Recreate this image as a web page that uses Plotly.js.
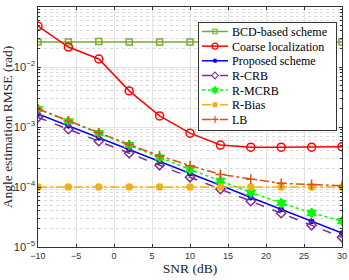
<!DOCTYPE html>
<html><head><meta charset="utf-8">
<script src="https://cdn.plot.ly/plotly-3.0.1.min.js"></script>
<style>html,body{margin:0;padding:0;background:#fff}#chart{width:349px;height:280px}</style>
</head><body><div id="chart"></div>
<script>
const snr = [-10, -6, -2, 2, 6, 10, 14, 18, 22, 26, 30];
const bcd = [0.026, 0.026, 0.0265, 0.026, 0.0262, 0.026, 0.026, 0.026, 0.026, 0.026, 0.026];
const coarse = [0.048, 0.0215, 0.0136, 0.0040, 0.00153, 0.00079, 0.0005, 0.00046, 0.00046, 0.00046, 0.00047];
const proposed = [1.65e-3, 1.05e-3, 6.6e-4, 4.2e-4, 2.65e-4, 1.68e-4, 1.07e-4, 6.7e-5, 4.25e-5, 2.68e-5, 1.7e-5];
const rcrb = [1.45e-3, 9.2e-4, 5.8e-4, 3.65e-4, 2.3e-4, 1.45e-4, 9.2e-5, 5.8e-5, 3.65e-5, 2.3e-5, 1.45e-5];
const rmcrb = [2.0e-3, 1.25e-3, 7.9e-4, 5.0e-4, 3.1e-4, 1.97e-4, 1.27e-4, 8.1e-5, 5.4e-5, 3.7e-5, 2.7e-5];
const rbias = [1e-4, 1e-4, 1e-4, 1e-4, 1e-4, 1e-4, 1e-4, 1e-4, 1e-4, 1e-4, 1e-4];
const lb = [2.0e-3, 1.26e-3, 8.0e-4, 5.1e-4, 3.3e-4, 2.27e-4, 1.62e-4, 1.35e-4, 1.15e-4, 1.1e-4, 1.05e-4];

function tr(name, y, color, dash, symbol, msize) {
  return {x: snr, y: y, name: name, type: 'scatter', mode: 'lines+markers',
    line: {color: color, dash: dash, width: 1.5},
    marker: {symbol: symbol, size: msize, color: color, line: {color: color, width: 1.5}}};
}
const data = [
  tr('BCD-based scheme', bcd, '#77AC30', 'solid', 'square-open', 6),
  tr('Coarse localization', coarse, '#FF0000', 'solid', 'circle-open', 8),
  tr('Proposed scheme', proposed, '#0000FF', 'solid', 'asterisk-open', 5),
  tr('R-CRB', rcrb, '#7E2F8E', 'dash', 'diamond-open', 7),
  tr('R-MCRB', rmcrb, '#00FF00', 'dot', 'hexagram', 7),
  tr('R-Bias', rbias, '#EDB120', 'dashdot', 'circle', 6),
  tr('LB', lb, '#D95319', 'dashdot', 'cross-thin-open', 7)
];
const serif = 'Liberation Serif, Times New Roman, serif';
const layout = {
  width: 349, height: 280,
  margin: {l: 38, r: 7, t: 7, b: 33},
  paper_bgcolor: '#fff', plot_bgcolor: '#fff',
  font: {family: 'Liberation Sans, Arial, sans-serif', size: 9, color: '#333'},
  showlegend: true,
  legend: {x: 0.53, y: 0.935, xanchor: 'left', yanchor: 'top',
    bgcolor: '#fff', bordercolor: '#333', borderwidth: 1,
    font: {family: serif, size: 12, color: '#000'},
    tracegroupgap: 0, itemwidth: 30},
  xaxis: {range: [-10, 30], tickvals: [-10, -5, 0, 5, 10, 15, 20, 25, 30],
    ticks: 'inside', ticklen: 3, tickcolor: '#333', showline: true, linecolor: '#333', linewidth: 1, mirror: 'ticks',
    showgrid: true, gridcolor: '#e3e3e3', zeroline: false,
    title: {text: 'SNR (dB)', font: {family: serif, size: 13.5, color: '#222'}, standoff: 3}},
  yaxis: {type: 'log', range: [-5, -1], dtick: 1, exponentformat: 'power',
    ticks: 'inside', ticklen: 3, tickcolor: '#333', showline: true, linecolor: '#333', linewidth: 1, mirror: 'ticks',
    showgrid: true, gridcolor: '#e3e3e3', zeroline: false,
    minor: {showgrid: true, gridcolor: '#d9d9d9', griddash: 'dot', ticks: 'inside', ticklen: 2, tickcolor: '#333'},
    title: {text: 'Angle estimation RMSE (rad)', font: {family: serif, size: 13.5, color: '#222'}, standoff: 1}}
};

function compactLegend() {
  const leg = document.querySelector('.legend');
  if (!leg) return;
  const W = 138, H = 108, X = 198, Y = 22, step = 14.65, first = 9.5;
  leg.setAttribute('transform', 'translate(' + X + ',' + Y + ')');
  const bg = leg.querySelector('rect.bg');
  if (bg) { bg.setAttribute('width', W); bg.setAttribute('height', H); }
  const items = Array.from(leg.querySelectorAll('g.traces'));
  items.forEach(function (g, i) {
    g.setAttribute('transform', 'translate(0,' + (first + i * step) + ')');
    const t = g.querySelector('text.legendtext');
    if (t) {
      t.setAttribute('x', 34);
      t.querySelectorAll('tspan').forEach(function (s) { if (s.hasAttribute('x')) s.setAttribute('x', 34); });
    }
    g.querySelectorAll('.legendlines path').forEach(function (p) { p.setAttribute('d', 'M4,0h26'); });
    g.querySelectorAll('.legendpoints path').forEach(function (p) { p.setAttribute('transform', 'translate(17,0) scale(0.75)'); });
    const r = g.querySelector('rect.legendtoggle');
    if (r) { r.setAttribute('width', W); r.setAttribute('height', step); }
  });
  const sb = leg.querySelector('.scrollbox');
  if (sb) sb.setAttribute('transform', 'translate(0,0)');
  document.querySelectorAll('clipPath[id^="legend"] rect').forEach(function (r) {
    r.setAttribute('width', W); r.setAttribute('height', H);
    r.setAttribute('x', 0); r.setAttribute('y', 0);
  });
}
Plotly.newPlot('chart', data, layout, {displayModeBar: false, staticPlot: true}).then(compactLegend);
</script></body></html>
